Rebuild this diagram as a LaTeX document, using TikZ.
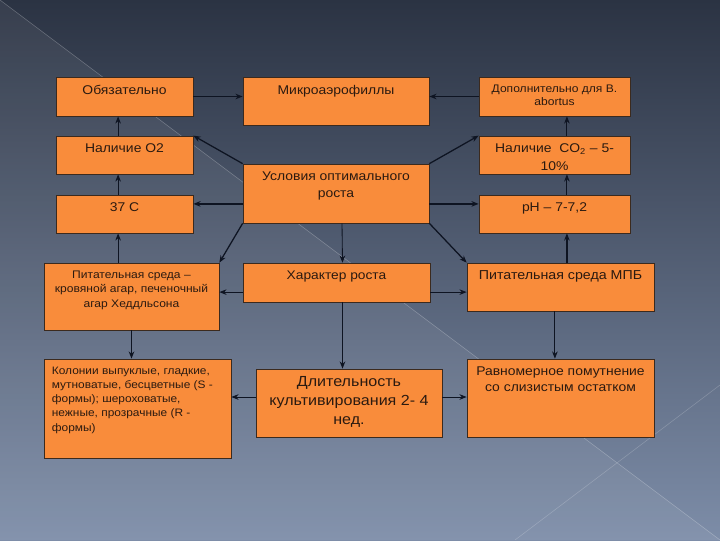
\documentclass[tikz,border=0pt]{standalone}
\usepackage{fontspec}
\setmainfont[FakeStretch=1.1]{Liberation Sans}
\usetikzlibrary{positioning,arrows.meta}

\definecolor{boxfill}{HTML}{F98C3B}
\definecolor{boxline}{HTML}{3B2A1E}
\definecolor{inkdark}{HTML}{2B1A10}
\definecolor{arrowink}{HTML}{0E1422}
\definecolor{bgtop}{HTML}{2B3343}
\definecolor{bgbottom}{HTML}{7D8DA8}

\newcommand\boxfont[2]{\fontsize{#1}{#2}\selectfont}

\begin{document}
\begin{tikzpicture}[x=0.025cm,y=-0.025cm,
    every node/.style={text=inkdark},
    box/.style={draw=boxline,line width=0.5pt,fill=boxfill,inner sep=0pt},
    boxtext/.style={anchor=north,yshift=-2mm,inner sep=0pt,align=center},
    link/.style={draw=arrowink,line width=0.9pt,-{Stealth[length=1.8mm,width=1.4mm]}},
    thinlink/.style={link,line width=0.6pt}]

  % background
  \useasboundingbox (0,0) rectangle (720,540);
  \shade[top color=bgtop,bottom color=bgbottom] (0,0) rectangle (720,540);
  \fill[white,opacity=0.06] (0,0) -- (720,540) -- (0,540) -- cycle;
  \draw[white,opacity=0.25,line width=0.4pt] (0,0) -- (720,540);
  \draw[white,opacity=0.2,line width=0.4pt] (720,385) -- (515,540);

  % left column
  \node[box,minimum width=3.425cm,minimum height=0.975cm,
        label={[boxtext,font=\boxfont{9}{10}]north:Обязательно}] (obz) at (124.5,96.5) {};
  \node[box,minimum width=3.425cm,minimum height=0.95cm,
        label={[boxtext,font=\boxfont{9}{10}]north:Наличие O2}] (o2) at (124.5,155) {};
  \node[box,minimum width=3.425cm,minimum height=0.95cm,
        label={[boxtext,font=\boxfont{9}{10}]north:37 C}] (t37) at (124.5,214) {};
  \node[box,minimum width=4.375cm,minimum height=1.675cm,
        label={[boxtext,font=\boxfont{7.8}{10.3}]north:Питательная среда --\\кровяной агар, печеночный\\агар Хеддльсона}] (pitl) at (131.5,296.5) {};
  \node[box,minimum width=4.675cm,minimum height=2.475cm,
        label={[boxtext,anchor=north west,xshift=2mm,align=left,font=\boxfont{7.7}{10.1}]north west:Колонии выпуклые, гладкие,\\мутноватые, бесцветные (S -\\формы); шероховатые,\\нежные, прозрачные (R -\\формы)}] (kol) at (137.5,408.5) {};

  % middle column
  \node[box,minimum width=4.65cm,minimum height=1.2cm,
        label={[boxtext,font=\boxfont{9}{10}]north:Микроаэрофиллы}] (mik) at (336,101) {};
  \node[box,minimum width=4.65cm,minimum height=1.475cm,
        label={[boxtext,font=\boxfont{9}{12}]north:Условия оптимального\\роста}] (usl) at (336,193.5) {};
  \node[box,minimum width=4.675cm,minimum height=0.975cm,
        label={[boxtext,font=\boxfont{8.9}{10}]north:Характер роста}] (har) at (336.5,282.5) {};
  \node[box,minimum width=4.65cm,minimum height=1.7cm,
        label={[boxtext,font=\boxfont{10.4}{13.5}]north:Длительность\\культивирования 2- 4\\нед.}] (dl) at (349,403) {};

  % right column
  \node[box,minimum width=3.775cm,minimum height=0.975cm,
        label={[boxtext,font=\boxfont{7.8}{9.3}]north:Дополнительно для B.\\abortus}] (dop) at (554.5,96.5) {};
  \node[box,minimum width=3.775cm,minimum height=0.95cm,
        label={[boxtext,font=\boxfont{9}{12.5}]north:Наличие\ \ CO\textsubscript{2} -- 5-\\10\%}] (co2) at (554.5,155) {};
  \node[box,minimum width=3.775cm,minimum height=0.95cm,
        label={[boxtext,font=\boxfont{9}{12}]north:pH -- 7-7,2}] (ph) at (554.5,214) {};
  \node[box,minimum width=4.675cm,minimum height=1.2cm,
        label={[boxtext,font=\boxfont{9.2}{10}]north:Питательная среда МПБ}] (mpb) at (560.5,287) {};
  \node[box,minimum width=4.675cm,minimum height=1.95cm,
        label={[boxtext,font=\boxfont{9}{11.2}]north:Равномерное помутнение\\со слизистым остатком}] (rav) at (560.5,398) {};

  % top row
  \draw[link] (obz) -- (obz -| mik.west);
  \draw[link] (dop) -- (dop -| mik.east);

  % left chain
  \draw[thinlink] ([xshift=-0.16cm]o2.north) -- ([xshift=-0.16cm]obz.south);
  \draw[thinlink] ([xshift=-0.16cm]t37.north) -- ([xshift=-0.16cm]o2.south);
  \draw[thinlink] ([xshift=-0.16cm]t37.south |- pitl.north) -- ([xshift=-0.16cm]t37.south);
  \draw[link] (pitl) -- (pitl |- kol.north);

  % right chain
  \draw[thinlink] ([xshift=0.31cm]co2.north) -- ([xshift=0.31cm]dop.south);
  \draw[thinlink] ([xshift=0.31cm]ph.north) -- ([xshift=0.31cm]co2.south);
  \draw[link] ([xshift=0.31cm]ph.south |- mpb.north) -- ([xshift=0.31cm]ph.south);
  \draw[thinlink] ([xshift=-0.14cm]mpb.south) -- ([xshift=-0.14cm]mpb.south |- rav.north);

  % from the centre
  \draw[link] (usl.north west) -- (o2.north east);
  \draw[link] ([yshift=-0.26cm]usl.west) -- ([yshift=-0.26cm]usl.west -| t37.east);
  \draw[link] (usl.south west) -- (pitl.north east);
  \draw[link] (usl.north east) -- (co2.north west);
  \draw[link] ([yshift=-0.26cm]usl.east) -- ([yshift=-0.26cm]usl.east -| ph.west);
  \draw[link] (usl.south east) -- (mpb.north west);
  \draw[thinlink] ([xshift=0.15cm]usl.south) -- ([xshift=0.15cm]har.north);

  % growth character
  \draw[thinlink] ([yshift=-0.24cm]har.west) -- ([yshift=-0.24cm]har.west -| pitl.east);
  \draw[thinlink] ([yshift=-0.24cm]har.east) -- ([yshift=-0.24cm]har.east -| mpb.west);
  \draw[link] ([xshift=0.15cm]har.south) -- ([xshift=0.15cm]har.south |- dl.north);
  \draw[thinlink] ([yshift=0.15cm]dl.west) -- ([yshift=0.15cm]dl.west -| kol.east);
  \draw[thinlink] ([yshift=0.15cm]dl.east) -- ([yshift=0.15cm]dl.east -| rav.west);
\end{tikzpicture}
\end{document}
